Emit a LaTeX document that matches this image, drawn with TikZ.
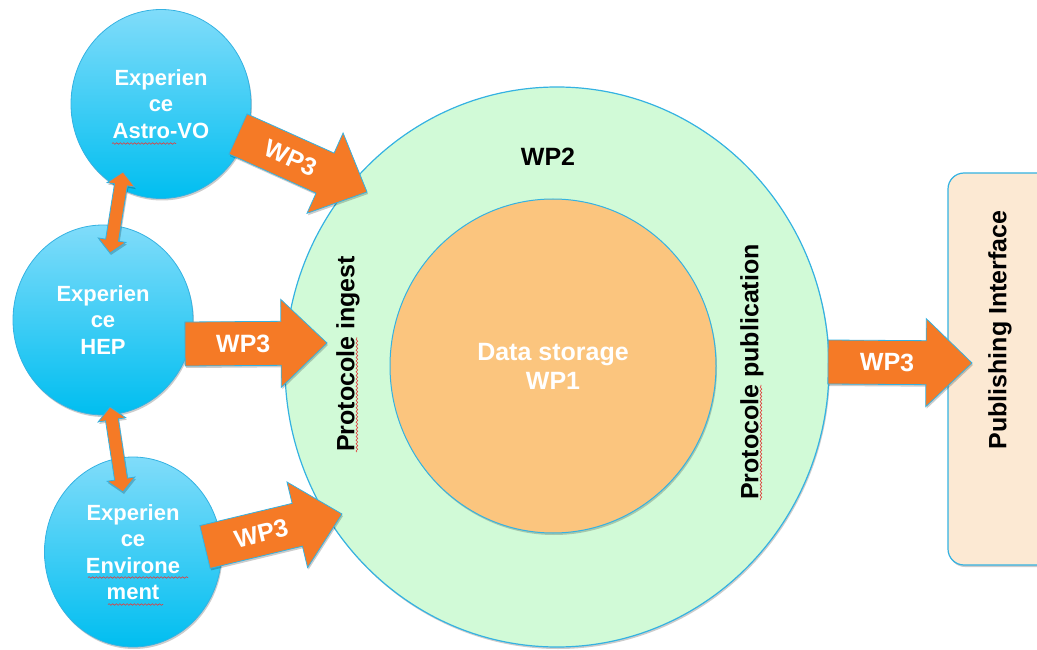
\documentclass[tikz,border=0pt]{standalone}
\usepackage{fontspec}
\setmainfont{Liberation Sans}
\usetikzlibrary{calc,shapes.geometric,shadows,decorations.pathmorphing}

\definecolor{wporange}{RGB}{245,122,38}
\definecolor{edgeblue}{RGB}{52,178,226}
\definecolor{ringgreen}{RGB}{209,250,215}
\definecolor{coreorange}{RGB}{251,197,126}
\definecolor{panelpeach}{RGB}{252,233,211}
\definecolor{skytop}{RGB}{128,220,250}
\definecolor{skybottom}{RGB}{0,190,240}
\definecolor{spellred}{RGB}{225,60,60}

\tikzset{
  softshadow/.style={drop shadow={shadow xshift=1pt, shadow yshift=-2pt, opacity=0.2, fill=black}},
  expbubble/.style={ellipse, draw=edgeblue, line width=0.8pt, top color=skytop, bottom color=skybottom,
    inner sep=0pt, text=white, font=\fontsize{22}{26.5}\selectfont\bfseries, align=center, softshadow},
  wparrow/.style={fill=wporange, draw=edgeblue, line width=0.8pt, line join=miter, softshadow},
  wplabel/.style={text=white, font=\fontsize{25}{30}\selectfont\bfseries, inner sep=0pt},
  blacklabel/.style={text=black, font=\fontsize{25}{30}\selectfont\bfseries, inner sep=0pt},
  spell/.style={draw=spellred, line width=0.6pt, decorate,
    decoration={snake, amplitude=0.8pt, segment length=3.6pt}},
}

% broad WP3 flow arrow from tail #1 to tip #2, label node #3
\newcommand\wpflow[3]{%
  \coordinate (#3-neck) at ($(#2)!46pt!(#1)$);
  \path[wparrow] ($(#1)!22pt!90:(#2)$) -- ($(#3-neck)!22pt!90:(#2)$) -- ($(#3-neck)!44pt!90:(#2)$)
     -- (#2) -- ($(#3-neck)!44pt!-90:(#2)$) -- ($(#3-neck)!22pt!-90:(#2)$) -- ($(#1)!22pt!-90:(#2)$) -- cycle;
  \path (#1) -- (#2) node[wplabel, sloped, pos=0.41] (#3) {WP3};
}

% slim two-headed link between #1 and #2, helper prefix #3
\newcommand\linkarrow[3]{%
  \coordinate (#3-a) at ($(#1)!13pt!(#2)$);
  \coordinate (#3-b) at ($(#2)!13pt!(#1)$);
  \path[wparrow] (#1) -- ($(#3-a)!14pt!90:(#2)$) -- ($(#3-a)!6.5pt!90:(#2)$) -- ($(#3-b)!6.5pt!90:(#2)$)
     -- ($(#3-b)!14pt!90:(#2)$) -- (#2) -- ($(#3-b)!14pt!-90:(#2)$) -- ($(#3-b)!6.5pt!-90:(#2)$)
     -- ($(#3-a)!6.5pt!-90:(#2)$) -- ($(#3-a)!14pt!-90:(#2)$) -- cycle;
}

\begin{document}
\begin{tikzpicture}[x=1pt, y=-1pt]
  \useasboundingbox (0,0) rectangle (1037,650);

  % WP2 ring and WP1 core
  \node[ellipse, minimum width=544pt, minimum height=560pt, fill=ringgreen, draw=edgeblue,
        line width=1.2pt, softshadow] (ring) at (557,367) {};
  \node[ellipse, minimum width=326pt, minimum height=334pt, fill=coreorange, draw=edgeblue,
        line width=1pt, softshadow, text=white, align=center,
        font=\fontsize{25}{29}\selectfont\bfseries] (core) at (553,366) {Data storage\\WP1};
  \node[blacklabel] (wp2) at (548,157) {WP2};
  \node[blacklabel, rotate=90] (ingest) at (348,354) {Protocole ingest};
  \node[blacklabel, rotate=90] (pubproto) at (752,372) {Protocole publication};

  % publishing side panel
  \node[draw=edgeblue, line width=1.2pt, fill=panelpeach, rounded corners=16pt,
        minimum width=120pt, minimum height=392pt, softshadow] (panel) at (1008,369) {};
  \node[blacklabel, rotate=90] (pubif) at (1000,330) {Publishing Interface};

  % experiment bubbles
  \node[expbubble, minimum width=180pt, minimum height=189pt] (astro) at (161,104) {Experien\\ce\\Astro-VO};
  \node[expbubble, minimum width=180pt, minimum height=190pt] (hep) at (103,320) {Experien\\ce\\HEP};
  \node[expbubble, minimum width=177pt, minimum height=190pt] (env) at (133,552) {Experien\\ce\\Environe\\ment};

  % links between experiments
  \coordinate (ah-top) at (123,172);
  \coordinate (ah-bot) at (110,253);
  \coordinate (he-top) at (110,407);
  \coordinate (he-bot) at (123,492);
  \linkarrow{ah-top}{ah-bot}{ahlink}
  \linkarrow{he-top}{he-bot}{helink}

  % WP3 flows
  \coordinate (astro-out) at (238,134);
  \coordinate (astro-in)  at (367,192);
  \coordinate (hep-out)   at (185,344);
  \coordinate (hep-in)    at (327,343);
  \coordinate (env-out)   at (205,547);
  \coordinate (env-in)    at (342,514);
  \coordinate (ring-out)  at (828,362);
  \coordinate (panel-in)  at (972,363);
  \wpflow{astro-out}{astro-in}{wpastro}
  \wpflow{hep-out}{hep-in}{wphep}
  \wpflow{env-out}{env-in}{wpenv}
  \wpflow{ring-out}{panel-in}{wppub}

  % spell-check squiggles
  \draw[spell] (112,143.5) -- (176,143.5);
  \draw[spell] (88,577.5) -- (188,577.5);
  \draw[spell] (108,604.5) -- (163,604.5);
  \draw[spell] ([xshift=2.5pt]ingest.base west) -- ([xshift=2.5pt, yshift=115pt]ingest.base west);
  \draw[spell] ([xshift=2.5pt]pubproto.base west) -- ([xshift=2.5pt, yshift=115pt]pubproto.base west);
\end{tikzpicture}
\end{document}
